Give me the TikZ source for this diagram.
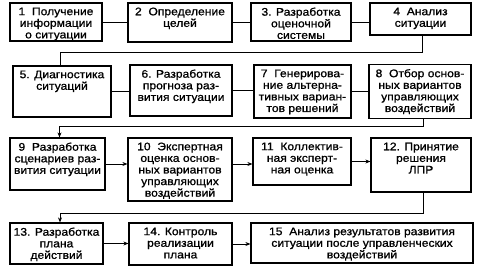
\documentclass[tikz,border=0pt]{standalone}
\usepackage{fontspec}
\setmainfont{Liberation Sans}[FakeStretch=1.1,FakeBold=1]
\usetikzlibrary{arrows.meta, positioning, calc}
\tikzset{
    box/.style={rectangle, draw, line width=1.2pt},
    txt/.style={anchor=north, align=center, inner sep=1pt, font=\fontsize{11}{11.6}\selectfont},
    line/.style={line width=0.8pt},
    arrow/.style={line width=0.8pt,-{Stealth[length=5pt,width=4pt]}}
}
\begin{document}
\begin{tikzpicture}[x=1pt, y=-1pt]
    \useasboundingbox (0,0) rectangle (482,269);
    \node (b1) [box, minimum width=92pt, minimum height=38pt] at (56,22) {};
    \node (b2) [box, minimum width=104pt, minimum height=39pt] at (180,22.5) {};
    \node (b3) [box, minimum width=100pt, minimum height=38pt] at (301,22) {};
    \node (b4) [box, minimum width=101pt, minimum height=32pt] at (420.5,19) {};
    \node (b5) [box, minimum width=98pt, minimum height=51pt] at (62,91.5) {};
    \node (b6) [box, minimum width=102pt, minimum height=51pt] at (181,90.5) {};
    \node (b7) [box, minimum width=97pt, minimum height=53pt] at (302.5,91.5) {};
    \node (b8) [box, minimum width=102pt, minimum height=54pt] at (420,91.5) {};
    \node (b9) [box, minimum width=95pt, minimum height=52pt] at (57.5,164) {};
    \node (b10) [box, minimum width=104pt, minimum height=63pt] at (180,169.5) {};
    \node (b11) [box, minimum width=98pt, minimum height=47pt] at (302,161.5) {};
    \node (b12) [box, minimum width=100pt, minimum height=54pt] at (421,165) {};
    \node (b13) [box, minimum width=93pt, minimum height=41pt] at (56.5,243.5) {};
    \node (b14) [box, minimum width=103pt, minimum height=42pt] at (180.5,244) {};
    \node (b15) [box, minimum width=222pt, minimum height=40pt] at (362,243) {};

    \node (t1) [txt] at ($(b1.north)+(0,4)$) {1\ \ Получение\\информации\\о ситуации};
    \node (t2) [txt] at ($(b2.north)+(0,4)$) {2\ \ Определение\\целей};
    \node (t3) [txt] at ($(b3.north)+(0,4)$) {3. Разработка\\оценочной\\системы};
    \node (t4) [txt] at ($(b4.north)+(0,4)$) {4\ \ Анализ\\ситуации};
    \node (t5) [txt] at ($(b5.north)+(0,4)$) {5. Диагностика\\ситуаций};
    \node (t6) [txt] at ($(b6.north)+(0,4)$) {6. Разработка\\прогноза раз-\\вития ситуации};
    \node (t7) [txt] at ($(b7.north)+(0,4)$) {7\ \ Генерирова-\\ние альтерна-\\тивных вариан-\\тов решений};
    \node (t8) [txt] at ($(b8.north)+(0,4)$) {8\ \ Отбор основ-\\ных вариантов\\управляющих\\воздействий};
    \node (t9) [txt] at ($(b9.north)+(0,4)$) {9\ \ Разработка\\сценариев раз-\\вития ситуации};
    \node (t10) [txt] at ($(b10.north)+(0,4)$) {10\ \ Экспертная\\оценка основ-\\ных вариантов\\управляющих\\воздействий};
    \node (t11) [txt] at ($(b11.north)+(0,4)$) {11\ \ Коллектив-\\ная эксперт-\\ная оценка};
    \node (t12) [txt] at ($(b12.north)+(0,4)$) {12. Принятие\\решения\\ЛПР};
    \node (t13) [txt] at ($(b13.north)+(0,4)$) {13. Разработка\\плана\\действий};
    \node (t14) [txt] at ($(b14.north)+(0,4)$) {14. Контроль\\реализации\\плана};
    \node (t15) [txt] at ($(b15.north)+(0,4)$) {15\ \ Анализ результатов развития\\ситуации после управленческих\\воздействий};

    \draw [line] (b1.east) -- (b1.east -| b2.west);
    \draw [line] (b2.east) -- (b2.east -| b3.west);
    \draw [line] (b3.east) -- (b3.east -| b4.west);
    \draw [line] ([xshift=2pt]b4.south) -- ++(0,17) -| ([xshift=-2pt]b5.north);
    \draw [line] (b5.east) -- (b5.east -| b6.west);
    \draw [line] (b6.east) -- (b6.east -| b7.west);
    \draw [line] (b7.east) -- (b7.east -| b8.west);
    \draw [arrow] ([xshift=3pt]b8.south) -- ++(0,7) -| ([xshift=2pt]b9.north);
    \draw [arrow] (b9.east) -- (b9.east -| b10.west);
    \draw [arrow] (b10.east |- b9.east) -- (b9.east -| b11.west);
    \draw [arrow] (b11.east) -- (b11.east -| b12.west);
    \draw [arrow] ([xshift=2pt]b12.south) -- ++(0,21) -| ([xshift=3.5pt]b13.north);
    \draw [arrow] (b13.east) -- (b13.east -| b14.west);
    \draw [arrow] (b14.east) -- (b14.east -| b15.west);
\end{tikzpicture}
\end{document}
